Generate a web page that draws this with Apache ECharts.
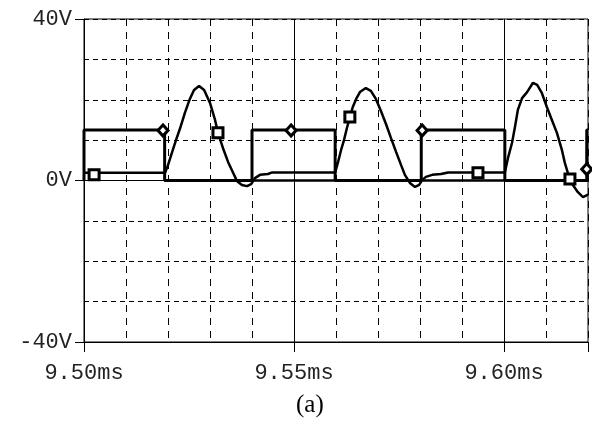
<!DOCTYPE html>
<html>
<head>
<meta charset="utf-8">
<script src="https://cdn.jsdelivr.net/npm/echarts@6/dist/echarts.min.js"></script>
<style>html,body{margin:0;padding:0;background:#fff}#c{width:592px;height:422px}</style>
</head>
<body>
<div id="c"></div>
<script>
// time in microseconds, voltage in volts
const xLabelTicks = [9500, 9550, 9600];
const yLabelTicks = [-40, 0, 40];

// square-wave trace (diamond markers)
const traceA = [[9500,0],[9500,12.5],[9519.2,12.5],[9519.2,0],[9540,0],[9540,12.5],[9559.8,12.5],[9559.8,0],
  [9580.3,0],[9580.3,12.5],[9600.2,12.5],[9600.2,0],[9619.7,0],[9619.7,12.5],[9620,12.5]];
const markersA = [[9518.8,12.4],[9549.3,12.4],[9580.5,12.4],[9619.7,2.8]];

// hump trace (square markers)
const traceB = [[9500,1.9],[9519.3,1.9],[9520.0,3.8],[9521.0,7.1],[9521.9,10.0],[9522.9,13.0],[9524.0,16.7],
  [9525.2,20.2],[9526.2,22.4],[9527.4,23.4],[9528.6,22.4],[9530.0,19.2],[9531.2,15.0],[9531.9,11.8],
  [9533.1,8.0],[9534.3,4.6],[9535.5,1.9],[9536.4,-0.1],[9537.6,-1.1],[9538.8,-1.4],[9539.8,-0.9],
  [9540.7,0.6],[9541.9,1.4],[9543.8,1.6],[9544.8,2.0],[9559.8,2.0],
  [9560.5,4.6],[9561.2,7.5],[9561.9,10.0],[9562.6,13.0],[9563.3,15.7],[9564.0,18.2],[9564.8,20.2],
  [9565.7,21.9],[9567.1,22.9],[9568.3,22.2],[9569.5,20.2],[9570.7,17.2],[9571.9,14.0],[9573.1,10.5],
  [9574.3,7.1],[9575.5,3.8],[9576.4,1.4],[9577.6,-0.6],[9578.8,-1.6],[9579.8,-1.1],[9580.5,0.1],
  [9581.4,0.9],[9582.9,1.4],[9585.0,1.6],[9586.7,2.0],[9600.2,2.0],
  [9601.0,5.8],[9601.9,9.3],[9602.6,13.2],[9603.3,17.5],[9604.3,20.4],[9605.5,21.9],[9606.9,24.2],
  [9607.9,23.7],[9609.0,21.7],[9610.2,18.2],[9611.4,15.0],[9612.6,11.8],[9613.8,7.5],[9614.5,4.3],
  [9615.2,1.9],[9615.7,0.4],[9616.4,-1.1],[9617.6,-2.9],[9618.8,-4.1],[9620,-3.5]];
const markersB = [[9502.4,1.4],[9531.9,11.8],[9563.3,15.7],[9593.8,1.9],[9615.7,0.4]];

// flat zero trace
const traceC = [[9519.2,0],[9620,0]];

const mono = 'Liberation Mono';
const chart = echarts.init(document.getElementById('c'), null, {renderer:'canvas'});
chart.setOption({
  animation:false,
  backgroundColor:'#fff',
  grid:{left:84,right:4,top:19,bottom:80,show:true,borderColor:'#000',borderWidth:1,backgroundColor:'transparent'},
  xAxis:[
    {type:'value',min:9500,max:9620,interval:10,position:'bottom',
     axisLine:{show:false},axisTick:{show:false},axisLabel:{show:false},
     splitLine:{show:true,lineStyle:{color:'#000',width:1,type:[7,6]}}},
    {type:'value',min:9500,max:9620,interval:50,position:'bottom',
     axisLine:{show:true,onZero:false,lineStyle:{color:'#000',width:1}},
     axisTick:{show:true,length:10,lineStyle:{color:'#000',width:1}},
     axisLabel:{show:true,margin:20,color:'#222',fontFamily:mono,fontSize:22,
       formatter:v=> xLabelTicks.includes(v) ? (v/1000).toFixed(2)+'ms' : ''},
     splitLine:{show:false}}
  ],
  yAxis:[
    {type:'value',min:-40,max:40,interval:10,position:'left',
     axisLine:{show:false},axisTick:{show:false},axisLabel:{show:false},
     splitLine:{show:true,lineStyle:{color:'#000',width:1,type:[5,4]}}},
    {type:'value',min:-40,max:40,interval:40,position:'left',
     axisLine:{show:true,onZero:false,lineStyle:{color:'#000',width:1}},
     axisTick:{show:true,length:9,lineStyle:{color:'#000',width:1}},
     axisLabel:{show:true,margin:12,color:'#222',fontFamily:mono,fontSize:22,
       formatter:v=> yLabelTicks.includes(v) ? v+'V' : ''},
     splitLine:{show:false}}
  ],
  series:[
    {type:'line',data:traceC,showSymbol:false,symbol:'none',lineStyle:{color:'#000',width:2.5},
     markLine:{silent:true,symbol:'none',label:{show:false},lineStyle:{color:'#000',width:1,type:'solid'},
       data:[{yAxis:0},{xAxis:9550},{xAxis:9600}]}},
    {type:'line',data:traceA,showSymbol:false,symbol:'none',lineStyle:{color:'#000',width:3}},
    {type:'line',data:traceB,showSymbol:false,symbol:'none',lineStyle:{color:'#000',width:2.5}},
    {type:'scatter',data:markersA,symbol:'diamond',symbolSize:[10,11],z:5,
     itemStyle:{color:'#fff',borderColor:'#000',borderWidth:3,opacity:1}},
    {type:'scatter',data:markersB,symbol:'rect',symbolSize:10,z:5,
     itemStyle:{color:'#fff',borderColor:'#000',borderWidth:3,opacity:1}}
  ],
  graphic:[{type:'text',left:296,top:393,style:{text:'(a)',font:'25px "Liberation Serif"',fill:'#000'}}]
});
</script>
</body>
</html>
